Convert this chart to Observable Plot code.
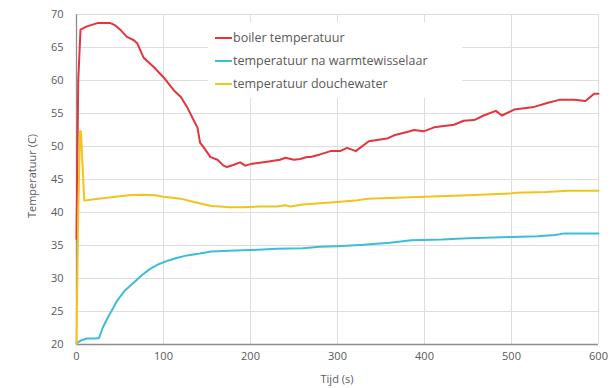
<!DOCTYPE html>
<html>
<head>
<meta charset="utf-8">
<script src="https://cdn.jsdelivr.net/npm/d3@7"></script>
<script src="https://cdn.jsdelivr.net/npm/@observablehq/plot@0.6"></script>
<style>
  html, body { margin: 0; padding: 0; background: #fff; }
  #wrap { position: relative; width: 613px; height: 388px; font-family: "Open Sans", sans-serif; }
  #legend { position: absolute; left: 208px; top: 22px; width: 254px; height: 76px; background: #fff; }
  .item { position: absolute; left: 7px; display: flex; align-items: center; font-size: 12.5px; color: #595959; white-space: nowrap; }
  .swatch { width: 17px; height: 2px; margin-right: 1px; }
  .axlabel { position: absolute; font-size: 11px; color: #595959; white-space: nowrap; }
  #xlabel { left: 0; width: 674px; text-align: center; top: 371px; }
  #ylabel { left: 31px; top: 176px; transform: translate(-50%, -50%) rotate(-90deg); }
</style>
</head>
<body>
<div id="wrap"></div>
<script>
const seriesNames = ["boiler temperatuur", "temperatuur na warmtewisselaar", "temperatuur douchewater"];
const seriesColors = ["#e5343d", "#3dbdd8", "#f2c31c"];
const xTicks = [0, 100, 200, 300, 400, 500, 600];
const yTicks = [20, 25, 30, 35, 40, 45, 50, 55, 60, 65, 70];
const xTitle = "Tijd (s)";
const yTitle = "Temperatuur (C)";

const boilerT = [0,2,4.6,12,24,39,45,51,58,66,70,77,89,100,112,120,127,135,139,142,146,154,162,169,173,180,188,194,202,219,234,240,250,257,265,269,280,292,303,311,321,336,357,365,380,388,399,411,434,445,457,468,482,489,503,526,541,556,572,585,595,600];
const boilerV = [36,60,67.7,68.2,68.7,68.7,68.3,67.6,66.6,66.1,65.6,63.5,62.0,60.5,58.5,57.5,56.0,53.9,52.9,50.6,49.9,48.4,48.0,47.1,46.9,47.2,47.6,47.1,47.4,47.7,48.0,48.3,48.0,48.1,48.4,48.4,48.8,49.3,49.3,49.8,49.3,50.8,51.2,51.7,52.2,52.5,52.3,52.9,53.3,53.9,54.0,54.7,55.4,54.7,55.6,56.0,56.6,57.1,57.1,56.9,58.0,58.0];

const wwT = [0,5,12,22,26,30,36,42,47,55,66,75,85,95,105,115,127,142,155,175,200,230,260,280,300,330,360,385,420,450,500,530,550,560,600];
const wwV = [20.2,20.6,20.9,20.9,21.0,22.5,24.1,25.5,26.7,28.1,29.4,30.5,31.5,32.2,32.7,33.1,33.5,33.8,34.1,34.2,34.3,34.5,34.6,34.8,34.9,35.1,35.4,35.8,35.9,36.1,36.3,36.4,36.6,36.8,36.8];

const douT = [0,2,4,5,9,20,40,60,75,90,100,120,135,145,155,165,175,190,210,230,240,246,260,280,300,320,335,360,400,450,500,505,540,565,600];
const douV = [20,40,52.3,52.3,41.8,42.0,42.3,42.6,42.7,42.6,42.4,42.1,41.6,41.3,41.0,40.9,40.8,40.8,40.9,40.9,41.1,40.9,41.2,41.4,41.6,41.8,42.1,42.2,42.4,42.6,42.9,43.0,43.1,43.3,43.3];

const rows = [];
boilerT.forEach((t, i) => rows.push({s: seriesNames[0], t, v: boilerV[i]}));
wwT.forEach((t, i) => rows.push({s: seriesNames[1], t, v: wwV[i]}));
douT.forEach((t, i) => rows.push({s: seriesNames[2], t, v: douV[i]}));

const chart = Plot.plot({
  width: 613,
  height: 388,
  marginLeft: 76,
  marginRight: 15,
  marginTop: 14,
  marginBottom: 44,
  style: { fontFamily: "Open Sans, sans-serif", fontSize: "11px", color: "#595959", background: "#fff" },
  x: { domain: [0, 600], ticks: xTicks, tickSize: 0, tickPadding: 8, label: null },
  y: { domain: [20, 70], ticks: yTicks, tickSize: 0, tickPadding: 13, label: null },
  color: { domain: seriesNames, range: seriesColors },
  marks: [
    Plot.gridY(yTicks, { stroke: "#dedede", strokeOpacity: 1 }),
    Plot.gridX(xTicks, { stroke: "#dedede", strokeOpacity: 1 }),
    Plot.ruleY([20], { stroke: "#8c8c8c", strokeWidth: 1.3 }),
    Plot.ruleX([0], { stroke: "#8c8c8c", strokeWidth: 1.3 }),
    Plot.line(rows, { x: "t", y: "v", z: "s", stroke: "s", strokeWidth: 2, curve: "linear" })
  ]
});

const wrap = document.getElementById("wrap");
wrap.appendChild(chart);

const xl = document.createElement("div");
xl.id = "xlabel"; xl.className = "axlabel"; xl.textContent = xTitle;
wrap.appendChild(xl);
const yl = document.createElement("div");
yl.id = "ylabel"; yl.className = "axlabel"; yl.textContent = yTitle;
wrap.appendChild(yl);

const legend = document.createElement("div");
legend.id = "legend";
const tops = [7, 30, 53];
seriesNames.forEach((n, i) => {
  const it = document.createElement("div");
  it.className = "item";
  it.style.top = tops[i] + "px";
  const sw = document.createElement("span");
  sw.className = "swatch";
  sw.style.background = seriesColors[i];
  const tx = document.createElement("span");
  tx.textContent = n;
  it.appendChild(sw);
  it.appendChild(tx);
  legend.appendChild(it);
});
wrap.appendChild(legend);
</script>
</body>
</html>
